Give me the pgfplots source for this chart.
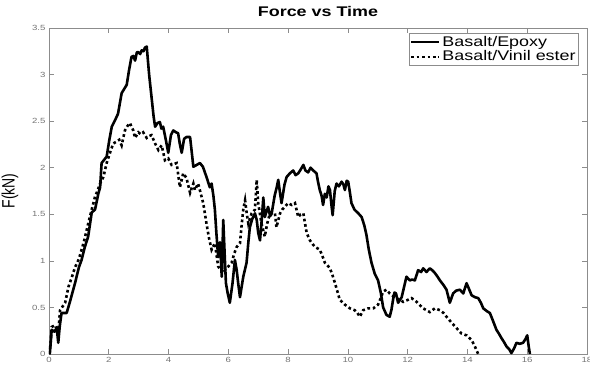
\documentclass[border=0pt]{standalone}
\usepackage{fontspec}
\setmainfont[FakeStretch=1.28]{Liberation Sans}
\newfontfamily\plainsans{Liberation Sans}
\usepackage{pgfplots}
\usepackage{graphicx}
\pgfplotsset{compat=1.18}

\definecolor{axisgray}{gray}{0.55}
\definecolor{ticklabelgray}{gray}{0.45}

\begin{document}
\begin{tikzpicture}
\useasboundingbox (-49pt,-11pt) rectangle (541pt,354pt);
\begin{axis}[
  scale only axis,
  width=538pt, height=326pt,
  xmin=0, xmax=18, ymin=0, ymax=3.5,
  xtick={0,2,...,18},
  ytick={0,0.5,...,3.5},
  yticklabels={0,0.5,1,1.5,2,2.5,3,3.5},
  axis line style={axisgray, line width=0.6pt},
  tick style={axisgray, line width=0.6pt},
  major tick length=5pt,
  tick align=inside,
  xtick pos=both, ytick pos=both,
  xticklabel pos=lower, yticklabel pos=left,
  ticklabel style={font=\fontsize{7.5}{8}\selectfont, text=ticklabelgray},
  /pgf/number format/assume math mode=true,
  title={\bfseries Force vs Time},
  title style={font=\fontsize{14}{16}\selectfont, at={(0.5,1)}, anchor=base, yshift=6pt},
  ylabel={\scalebox{1}[1.28]{\plainsans F(kN)}},
  ylabel style={font=\fontsize{14}{16}\selectfont, at={(axis description cs:-0.0725,0.5)}, anchor=center},
  legend style={at={(rel axis cs:0.985,0.985)}, anchor=north east,
    draw=axisgray, line width=0.6pt, font=\fontsize{14}{17}\selectfont,
    inner xsep=1pt, inner ysep=1pt, row sep=-1pt,
    legend cell align=left},
  legend image code/.code={\draw[#1, line width=2.3pt] (0pt,0pt) -- (28pt,0pt);},
]
% Basalt/Epoxy
\addplot[black, line width=2.6pt, line join=round] coordinates {
(0.00,0.00) (0.03,0.01) (0.09,0.26) (0.18,0.24) (0.26,0.28) (0.31,0.12) (0.36,0.30)
(0.42,0.44) (0.59,0.44) (0.70,0.56) (0.87,0.76) (1.00,0.93) (1.09,1.01) (1.20,1.15)
(1.31,1.26) (1.43,1.52) (1.54,1.55) (1.65,1.72) (1.71,1.79) (1.76,2.05) (1.93,2.12)
(2.02,2.30) (2.10,2.44) (2.21,2.51) (2.31,2.58) (2.43,2.80) (2.60,2.89) (2.68,3.05)
(2.76,3.19) (2.82,3.20) (2.88,3.15) (2.94,3.24) (2.99,3.24) (3.05,3.22) (3.10,3.26)
(3.16,3.25) (3.21,3.29) (3.27,3.30) (3.35,3.00) (3.43,2.76) (3.50,2.55) (3.55,2.44)
(3.63,2.48) (3.71,2.49) (3.76,2.42) (3.82,2.44) (3.92,2.28) (3.99,2.16) (4.08,2.35)
(4.16,2.40) (4.25,2.38) (4.32,2.37) (4.38,2.25) (4.44,2.16) (4.52,2.31) (4.60,2.33)
(4.72,2.33) (4.83,2.01) (4.94,2.03) (5.05,2.05) (5.15,2.01) (5.27,1.90) (5.38,1.79)
(5.44,1.83) (5.50,1.70) (5.55,1.55) (5.60,1.30) (5.66,1.04) (5.72,1.20) (5.78,0.83)
(5.83,1.44) (5.88,1.05) (5.92,0.76) (5.98,0.65) (6.05,0.55) (6.14,0.76) (6.22,1.01)
(6.28,0.90) (6.33,0.76) (6.39,0.61) (6.50,0.83) (6.61,0.98) (6.67,1.20) (6.72,1.36)
(6.80,1.45) (6.89,1.51) (6.95,1.44) (7.00,1.30) (7.06,1.22) (7.12,1.45) (7.17,1.68)
(7.22,1.47) (7.33,1.58) (7.40,1.48) (7.45,1.51) (7.55,1.70) (7.62,1.79) (7.67,1.87)
(7.72,1.75) (7.78,1.62) (7.88,1.82) (7.95,1.90) (8.06,1.94) (8.17,1.97) (8.25,1.92)
(8.34,1.94) (8.42,1.98) (8.51,2.03) (8.58,1.97) (8.67,1.95) (8.75,2.00) (8.84,1.97)
(8.95,1.94) (9.00,1.85) (9.06,1.76) (9.12,1.70) (9.17,1.60) (9.23,1.72) (9.29,1.68)
(9.35,1.80) (9.40,1.76) (9.45,1.60) (9.49,1.49) (9.56,1.75) (9.62,1.83) (9.70,1.80)
(9.79,1.85) (9.85,1.82) (9.90,1.76) (9.96,1.86) (10.01,1.85) (10.06,1.75) (10.12,1.62)
(10.22,1.55) (10.35,1.51) (10.46,1.47) (10.55,1.38) (10.62,1.28) (10.70,1.12)
(10.79,0.98) (10.90,0.86) (11.01,0.79) (11.10,0.66) (11.18,0.50) (11.29,0.42)
(11.40,0.40) (11.46,0.48) (11.51,0.58) (11.56,0.66) (11.61,0.65) (11.68,0.55)
(11.80,0.61) (11.88,0.72) (11.96,0.83) (12.07,0.79) (12.15,0.80) (12.24,0.79)
(12.35,0.90) (12.45,0.88) (12.52,0.92) (12.63,0.88) (12.74,0.92) (12.82,0.90)
(12.91,0.87) (13.00,0.83) (13.08,0.79) (13.20,0.74) (13.30,0.69) (13.41,0.55)
(13.52,0.65) (13.62,0.68) (13.75,0.69) (13.86,0.65) (13.97,0.76) (14.05,0.70)
(14.14,0.63) (14.25,0.61) (14.36,0.60) (14.45,0.55) (14.53,0.49) (14.65,0.46)
(14.75,0.44) (14.85,0.36) (14.97,0.26) (15.05,0.22) (15.14,0.17) (15.22,0.13)
(15.31,0.08) (15.40,0.05) (15.47,0.01) (15.56,0.06) (15.64,0.12) (15.75,0.11)
(15.86,0.12) (15.94,0.16) (16.00,0.20) (16.05,0.08) (16.09,0.00)
};
\addlegendentry{Basalt/Epoxy}
% Basalt/Vinil ester
\addplot[black, line width=2.6pt, dash pattern=on 2.7pt off 2.7pt, line cap=butt] coordinates {
(0.00,0.00) (0.05,0.10) (0.09,0.29) (0.20,0.31) (0.31,0.23) (0.37,0.47) (0.54,0.55)
(0.65,0.72) (0.76,0.82) (0.87,0.93) (1.00,1.02) (1.09,1.12) (1.18,1.22) (1.26,1.33)
(1.35,1.45) (1.43,1.55) (1.54,1.69) (1.62,1.75) (1.71,1.83) (1.82,1.90) (1.93,2.05)
(2.04,2.16) (2.15,2.26) (2.26,2.28) (2.35,2.30) (2.43,2.24) (2.54,2.40) (2.63,2.45)
(2.71,2.48) (2.76,2.44) (2.82,2.40) (2.88,2.32) (2.99,2.38) (3.07,2.36) (3.15,2.38)
(3.27,2.32) (3.35,2.34) (3.43,2.35) (3.55,2.26) (3.66,2.19) (3.77,2.24) (3.88,2.08)
(3.99,2.10) (4.10,2.03) (4.27,2.05) (4.38,1.79) (4.49,1.94) (4.60,1.89) (4.72,1.73)
(4.83,1.83) (4.88,1.76) (4.99,1.83) (5.08,1.72) (5.16,1.62) (5.27,1.40) (5.35,1.25)
(5.44,1.12) (5.55,1.19) (5.66,0.94) (5.75,0.90) (5.83,0.87) (5.92,0.92) (6.00,0.94)
(6.11,0.98) (6.20,1.08) (6.28,1.15) (6.39,1.19) (6.45,1.40) (6.50,1.55) (6.56,1.65)
(6.62,1.50) (6.67,1.40) (6.78,1.51) (6.89,1.55) (6.95,1.87) (7.00,1.62) (7.11,1.40)
(7.22,1.26) (7.30,1.40) (7.39,1.51) (7.48,1.50) (7.56,1.51) (7.61,1.36) (7.73,1.51)
(7.80,1.55) (7.89,1.58) (8.00,1.62) (8.12,1.60) (8.23,1.62) (8.34,1.47) (8.42,1.50)
(8.51,1.51) (8.62,1.30) (8.73,1.22) (8.82,1.18) (8.90,1.15) (9.06,1.12) (9.15,1.05)
(9.23,0.98) (9.32,0.95) (9.40,0.92) (9.48,0.85) (9.57,0.76) (9.65,0.67) (9.73,0.58)
(9.84,0.55) (9.90,0.53) (10.07,0.49) (10.23,0.47) (10.32,0.44) (10.40,0.40)
(10.51,0.47) (10.68,0.49) (10.85,0.49) (11.01,0.53) (11.10,0.60) (11.18,0.67)
(11.29,0.69) (11.40,0.65) (11.52,0.62) (11.63,0.60) (11.75,0.58) (11.85,0.56)
(12.00,0.58) (12.13,0.60) (12.30,0.56) (12.42,0.52) (12.52,0.49) (12.63,0.47)
(12.74,0.45) (12.91,0.49) (13.08,0.47) (13.20,0.44) (13.30,0.40) (13.46,0.34)
(13.63,0.28) (13.80,0.22) (13.97,0.20) (14.14,0.15) (14.25,0.08) (14.36,0.00)
};
\addlegendentry{Basalt/Vinil ester}
\end{axis}
\end{tikzpicture}
\end{document}
